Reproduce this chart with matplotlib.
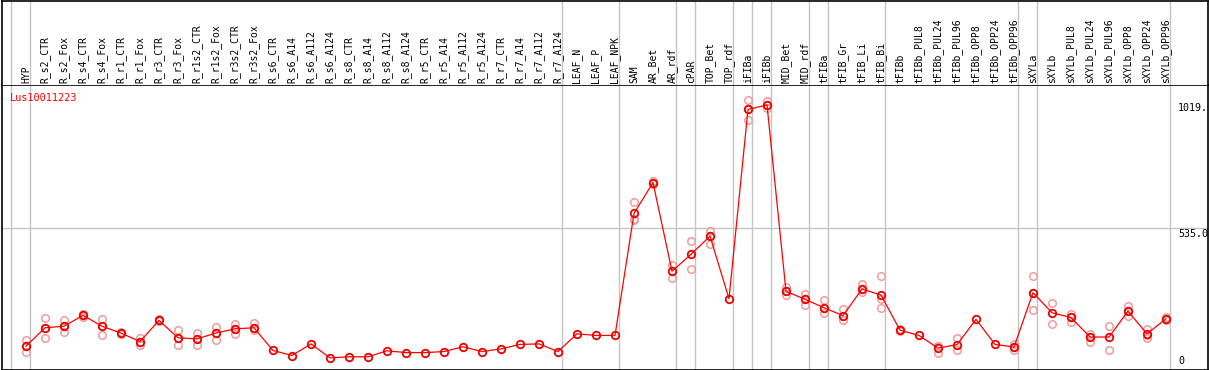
import matplotlib
matplotlib.use("Agg")
import matplotlib.pyplot as plt

W, H = 1209, 370
FONT = "DejaVu Sans Mono"

gene = "Lus10011223"

samples = [
    "HYP",
    "R_s2_CTR", "R_s2_Fox", "R_s4_CTR", "R_s4_Fox", "R_r1_CTR", "R_r1_Fox",
    "R_r3_CTR", "R_r3_Fox", "R_r1s2_CTR", "R_r1s2_Fox", "R_r3s2_CTR", "R_r3s2_Fox",
    "R_s6_CTR", "R_s6_A14", "R_s6_A112", "R_s6_A124",
    "R_s8_CTR", "R_s8_A14", "R_s8_A112", "R_s8_A124",
    "R_r5_CTR", "R_r5_A14", "R_r5_A112", "R_r5_A124",
    "R_r7_CTR", "R_r7_A14", "R_r7_A112", "R_r7_A124",
    "LEAF_N", "LEAF_P", "LEAF_NPK",
    "SAM", "AR_Bet", "AR_rdf", "cPAR", "TOP_Bet", "TOP_rdf", "iFIBa", "iFIBb",
    "MID_Bet", "MID_rdf", "tFIBa", "tFIB_Gr", "tFIB_Li", "tFIB_Bi",
    "tFIBb", "tFIBb_PUL8", "tFIBb_PUL24", "tFIBb_PUL96", "tFIBb_OPP8", "tFIBb_OPP24", "tFIBb_OPP96",
    "sXYLa", "sXYLb", "sXYLb_PUL8", "sXYLb_PUL24", "sXYLb_PUL96", "sXYLb_OPP8", "sXYLb_OPP24", "sXYLb_OPP96",
]

means = [
    88, 158, 164, 205, 164, 138, 106, 186, 120, 116, 138, 154, 158,
    72, 53, 97, 44, 48, 48, 71, 64, 64, 68, 86, 68, 78, 95, 97, 68,
    135, 129, 129,
    591, 708, 372, 436, 505, 268, 985, 1002, 296,
    266, 234, 204, 305, 282, 149, 129, 81, 94, 190, 95, 85,
    291, 215, 197, 123, 123, 221, 135, 192,
]

replicates = [
    [110, 88, 66], [195, 158, 121], [186, 164, 142], [212, 198, 205], [190, 164, 132],
    [142, 134, 138], [120, 106, 91], [190, 182], [148, 120, 94], [138, 116, 94],
    [160, 138, 110], [173, 154, 135], [177, 158, 150],
    [], [], [], [], [], [], [], [], [], [], [], [], [], [], [], [],
    [], [], [],
    [635, 570, 568], [715, 702], [395, 372, 348], [488, 380], [525, 505, 477], [],
    [1019, 985, 945], [1015, 1002, 990], [312, 296, 281],
    [287, 266, 245], [262, 234, 214], [230, 204, 186], [322, 305, 292], [353, 268, 234],
    [152, 145], [], [89, 90, 64], [118, 72], [], [], [97, 85, 72],
    [353, 291, 226], [253, 173], [210, 197, 180], [135, 123, 104], [166, 72],
    [239, 221, 201], [154, 130, 120], [197, 188],
]

# last column of each group (gray separators)
group_ends = [-1, 0, 28, 31, 34, 35, 37, 38, 39, 41, 42, 45, 52, 53, 60]

scale_labels = ["1019.", "535.0", "0"]
scale_values = [1019, 535, 0]

# pixel layout
X0, STEP = 26, 19
L, R = 1.5, 1207.5
HEAD = 85
PX_PER_UNIT = 0.2636
Y_ZERO = 369

xlim = ((L - X0) / STEP, (R - X0) / STEP)
ytop = (Y_ZERO - HEAD) / PX_PER_UNIT

fig = plt.figure(figsize=(W / 100, H / 100), dpi=100)
ax = fig.add_axes([L / W, (H - 369.5) / H, (R - L) / W, (369.5 - HEAD) / H])
hx = fig.add_axes([L / W, (H - HEAD) / H, (R - L) / W, (HEAD - 0.5) / H])

for a in (ax, hx):
    a.set_xlim(*xlim)
    a.set_xticks([])
    a.set_yticks([])
    for s in a.spines.values():
        s.set_color("black")
        s.set_linewidth(1.2)
    for g in group_ends:
        a.axvline(g + 0.23, color="#c4c4c4", lw=1.0, zorder=0)

ax.set_ylim(0, ytop)
hx.set_ylim(0, 1)
hx.spines["bottom"].set_visible(False)

ax.axhline(535, color="#c4c4c4", lw=1.0, zorder=0)

xs = list(range(len(samples)))

# replicate points
for i, reps in enumerate(replicates):
    if reps:
        ax.plot([i] * len(reps), reps, "o", ms=5.4, mfc="none",
                mec="#f09c9c", mew=1.1, zorder=2, clip_on=False)

ax.plot(xs, means, "-", color="#ff0000", lw=0.9, zorder=3)
ax.plot(xs, means, "o", ms=5.4, mfc="none", mec="#ee0000", mew=1.3, zorder=4)

for i, name in enumerate(samples):
    hx.text(i, 2.0 / HEAD, name, rotation=90, ha="center", va="bottom",
            fontsize=7, family=FONT, color="black")

ax.text(8 / (R - L), 1 - 8 / (369.5 - HEAD), gene, transform=ax.transAxes,
        ha="left", va="top", fontsize=7.4, family=FONT, color="#ff0000")

xlab = (1178 - X0) / STEP
offsets = [-3, -1, 0]
for lab, v, off in zip(scale_labels, scale_values, offsets):
    if v == 0:
        ax.annotate(lab, (xlab, v), xytext=(0, 4), textcoords="offset pixels",
                    ha="left", va="bottom", fontsize=7.2, family=FONT)
    else:
        ax.annotate(lab, (xlab, v), xytext=(0, off), textcoords="offset pixels",
                    ha="left", va="top", fontsize=7.2, family=FONT)

fig.savefig("out.png", dpi=100)
